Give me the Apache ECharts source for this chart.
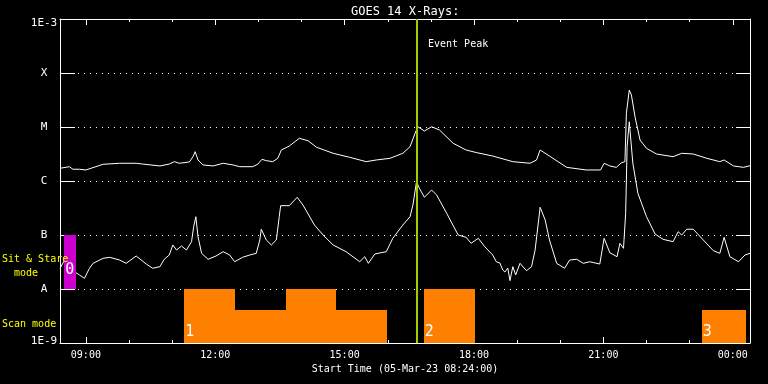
<!DOCTYPE html>
<html><head><meta charset="utf-8">
<script src="https://cdn.jsdelivr.net/npm/echarts@6/dist/echarts.min.js"></script>
<style>html,body{margin:0;padding:0;background:#000;}#c{width:768px;height:384px;}</style>
</head><body><div id="c"></div>
<script>
// Start of plot: 05-Mar-23 08:24:00 (minutes after midnight)
const START = 504;
const END = 1464;
// GOES 14 long channel (1-8 A): minutes after 08:24 and flux (W/m^2)
const longMin = [0,13,18,27,36,60,83,106,115,139,152,159,166,180,185,188,192,199,213,227,241,250,268,275,281,287,296,303,308,319,333,345,357,380,403,426,440,459,477,487,494,498,507,517,528,547,565,579,602,630,654,663,668,681,705,732,752,757,765,774,781,786,788,792,795,800,807,816,830,853,865,881,900,918,924,937,951,960];
const longFlux = [1.72e-6,1.84e-6,1.65e-6,1.65e-6,1.60e-6,2.04e-6,2.13e-6,2.13e-6,2.06e-6,1.90e-6,2.06e-6,2.28e-6,2.13e-6,2.25e-6,2.82e-6,3.49e-6,2.45e-6,1.98e-6,1.90e-6,2.13e-6,1.98e-6,1.84e-6,1.84e-6,2.04e-6,2.52e-6,2.38e-6,2.28e-6,2.63e-6,3.75e-6,4.45e-6,6.18e-6,5.57e-6,4.21e-6,3.26e-6,2.75e-6,2.28e-6,2.45e-6,2.63e-6,3.26e-6,4.32e-6,7.64e-6,1.01e-5,8.43e-6,1.01e-5,8.80e-6,4.99e-6,3.75e-6,3.37e-6,2.90e-6,2.28e-6,2.13e-6,2.45e-6,3.75e-6,2.90e-6,1.79e-6,1.60e-6,1.60e-6,2.13e-6,1.90e-6,1.79e-6,2.18e-6,2.28e-6,1.79e-5,4.84e-5,3.91e-5,1.55e-5,5.74e-6,4.03e-6,3.16e-6,2.82e-6,3.26e-6,3.16e-6,2.63e-6,2.28e-6,2.45e-6,1.90e-6,1.79e-6,1.92e-6];
// GOES 14 short channel (0.5-4 A)
const shortMin = [0,8,20,27,34,41,46,60,69,83,92,106,120,129,139,145,152,157,162,169,176,183,186,189,192,197,206,217,227,236,243,254,264,273,278,280,287,294,301,305,307,319,330,338,346,354,366,380,398,417,424,429,438,454,463,477,487,491,496,500,507,517,524,538,554,565,572,582,591,602,607,612,616,619,623,626,630,634,640,649,656,661,668,675,681,691,702,709,719,728,737,751,757,765,775,779,784,787,789,792,797,804,816,828,839,853,860,865,872,881,895,909,918,924,932,944,953,960];
const shortFlux = [2.42e-8,3.75e-8,2.09e-8,1.82e-8,1.58e-8,2.42e-8,2.99e-8,3.70e-8,3.86e-8,3.44e-8,2.99e-8,4.08e-8,2.90e-8,2.42e-8,2.59e-8,3.55e-8,4.26e-8,6.53e-8,5.27e-8,6.25e-8,5.27e-8,7.52e-8,1.43e-7,2.18e-7,9.31e-8,4.58e-8,3.55e-8,4.08e-8,4.91e-8,4.26e-8,3.20e-8,3.86e-8,4.26e-8,4.58e-8,8.08e-8,1.28e-7,8.08e-8,6.53e-8,8.08e-8,2.18e-7,3.49e-7,3.49e-7,4.99e-7,3.59e-7,2.35e-7,1.53e-7,1.00e-7,6.53e-8,4.91e-8,3.20e-8,3.96e-8,2.99e-8,4.45e-8,4.91e-8,8.69e-8,1.53e-7,2.18e-7,3.59e-7,9.71e-7,7.33e-7,4.99e-7,6.81e-7,5.51e-7,2.52e-7,1.00e-7,9.06e-8,7.02e-8,8.69e-8,6.07e-8,4.26e-8,3.20e-8,3.03e-8,2.25e-8,2.06e-8,2.45e-8,1.43e-8,2.59e-8,1.82e-8,2.99e-8,2.18e-8,2.59e-8,5.27e-8,3.26e-7,1.90e-7,8.08e-8,2.99e-8,2.42e-8,3.44e-8,3.55e-8,2.99e-8,3.20e-8,2.90e-8,8.69e-8,4.70e-8,3.96e-8,7.02e-8,5.67e-8,2.52e-7,4.32e-6,1.25e-5,2.13e-6,5.92e-7,2.18e-7,1.04e-7,8.32e-8,7.52e-8,1.15e-7,1.00e-7,1.28e-7,1.28e-7,8.08e-8,5.12e-8,4.58e-8,9.06e-8,3.96e-8,3.20e-8,4.26e-8,4.58e-8];
// Observing mode blocks (minutes after 08:24)
const modeStart = [6,173,244,314,384,506,893];
const modeEnd   = [22,244,314,384,455,577,955];
const modeTop   = [1e-7,1e-8,4.1e-9,1e-8,4.1e-9,1e-8,4.1e-9];
const modeBase  = [1e-8,1e-9,1e-9,1e-9,1e-9,1e-9,1e-9];
const modeKind  = ['stare','scan','scan','scan','scan','scan','scan'];
const modeLabel = ['0','1','','','','2','3'];
// Event peak (minutes after 08:24)
const eventMin = 496;
// Tick values
const majorTicks = [540,720,900,1080,1260,1440];
const hourTicks = [540,600,660,720,780,840,900,960,1020,1080,1140,1200,1260,1320,1380,1440];
const yLabels = {'-3':'1E-3','-4':'X','-5':'M','-6':'C','-7':'B','-8':'A','-9':'1E-9'};

const FONT = 'DejaVu Sans Mono';
const pad = n => (n < 10 ? '0' : '') + n;
const fmtTime = v => pad(Math.floor(v / 60) % 24) + ':' + pad(Math.round(v % 60));

const longData = longMin.map((m, i) => [START + m, longFlux[i]]);
const shortData = shortMin.map((m, i) => [START + m, shortFlux[i]]);
const modeData = modeStart.map((m, i) => [START + m, modeTop[i]]);

function xAx(pos, ticks, len, labels, line, name) {
  return {
    type: 'value', position: pos, min: START, max: END, gridIndex: 0,
    axisLine: { show: line, onZero: false, lineStyle: { color: '#fff', width: 1 } },
    axisTick: { show: true, inside: true, length: len, customValues: ticks, lineStyle: { color: '#fff', width: 1 } },
    axisLabel: labels ? { show: true, customValues: majorTicks, formatter: fmtTime, color: '#fff', fontFamily: FONT, fontSize: 10, margin: 7 } : { show: false },
    splitLine: { show: false },
    name: name || '', nameLocation: 'middle', nameGap: 20,
    nameTextStyle: { color: '#fff', fontFamily: FONT, fontSize: 10 }
  };
}
function yAx(pos, len, labels) {
  return {
    type: 'log', logBase: 10, position: pos, min: 1e-9, max: 1e-3, splitNumber: 6,
    axisLine: { show: true, lineStyle: { color: '#fff', width: 1 } },
    axisTick: { show: true, inside: true, length: len, lineStyle: { color: '#fff', width: 1 } },
    axisLabel: labels ? {
      show: true, color: '#fff', fontFamily: FONT, fontSize: 11, align: 'center', margin: 16,
      formatter: v => {
        const e = Math.round(Math.log10(v));
        const t = yLabels[String(e)] || '';
        if (e === -3) return '{top|' + t + '}';
        if (e === -9) return '{bot|' + t + '}';
        return t;
      },
      rich: {
        top: { color: '#fff', fontFamily: FONT, fontSize: 11, padding: [9, 0, 0, 0] },
        bot: { color: '#fff', fontFamily: FONT, fontSize: 11, padding: [0, 0, 4, 0] }
      }
    } : { show: false },
    splitLine: labels ? { show: true, lineStyle: { color: '#fff', width: 1, type: [1, 5] } } : { show: false },
    minorTick: { show: false }
  };
}

const chart = echarts.init(document.getElementById('c'), null, { renderer: 'canvas' });
chart.setOption({
  backgroundColor: '#000',
  animation: false,
  title: { text: 'GOES 14 X-Rays:', left: 346, top: 1, textStyle: { color: '#fff', fontFamily: FONT, fontSize: 12, fontWeight: 'normal' } },
  grid: { left: 60, right: 18, top: 19, bottom: 41, containLabel: false },
  xAxis: [
    xAx('bottom', majorTicks, 6, true, true, 'Start Time (05-Mar-23 08:24:00)'),
    xAx('bottom', hourTicks, 3, false, false),
    xAx('top', majorTicks, 6, false, true),
    xAx('top', hourTicks, 3, false, false)
  ],
  yAxis: [yAx('left', 15, true), yAx('right', 14, false)],
  graphic: [
    { type: 'text', left: 2, top: 252, z: 100, style: { text: 'Sit & Stare\n  mode', fill: '#ffff00', font: '10px "' + FONT + '"', lineHeight: 14 } },
    { type: 'text', left: 2, top: 319, z: 100, style: { text: 'Scan mode', fill: '#ffff00', font: '10px "' + FONT + '"' } },
    { type: 'text', left: 428, top: 39, z: 100, style: { text: 'Event Peak', fill: '#fff', font: '10px "' + FONT + '"' } }
  ],
  series: [
    {
      type: 'line', name: 'long', data: longData, xAxisIndex: 0, yAxisIndex: 0,
      showSymbol: false, symbol: 'none', lineStyle: { color: '#fff', width: 1 }, z: 3,
      markLine: {
        silent: true, symbol: 'none', label: { show: false }, animation: false,
        lineStyle: { color: '#a0cc00', width: 2, type: 'solid' },
        data: [{ xAxis: START + eventMin }]
      }
    },
    {
      type: 'line', name: 'short', data: shortData, xAxisIndex: 0, yAxisIndex: 0,
      showSymbol: false, symbol: 'none', lineStyle: { color: '#fff', width: 1 }, z: 3
    },
    {
      type: 'custom', name: 'mode', data: modeData, xAxisIndex: 0, yAxisIndex: 0, z: 4,
      encode: { x: 0, y: 1 },
      renderItem: function (params, api) {
        const i = params.dataIndex;
        const p0 = api.coord([START + modeStart[i], modeTop[i]]);
        const p1 = api.coord([START + modeEnd[i], modeBase[i]]);
        const stare = modeKind[i] === 'stare';
        const children = [{
          type: 'rect',
          shape: { x: Math.round(p0[0]), y: Math.round(p0[1]), width: Math.round(p1[0]) - Math.round(p0[0]), height: Math.round(p1[1]) - Math.round(p0[1]) },
          style: { fill: stare ? '#cc00cc' : '#ff8000' }
        }];
        if (modeLabel[i]) {
          children.push({
            type: 'text', z2: 10,
            style: { text: modeLabel[i], x: p0[0] + 1, y: p1[1] - (stare ? 11 : 3), textVerticalAlign: 'bottom', textAlign: 'left', fill: '#fff', font: '15px "' + FONT + '"' }
          });
        }
        return { type: 'group', children: children };
      }
    }
  ]
});
</script></body></html>
